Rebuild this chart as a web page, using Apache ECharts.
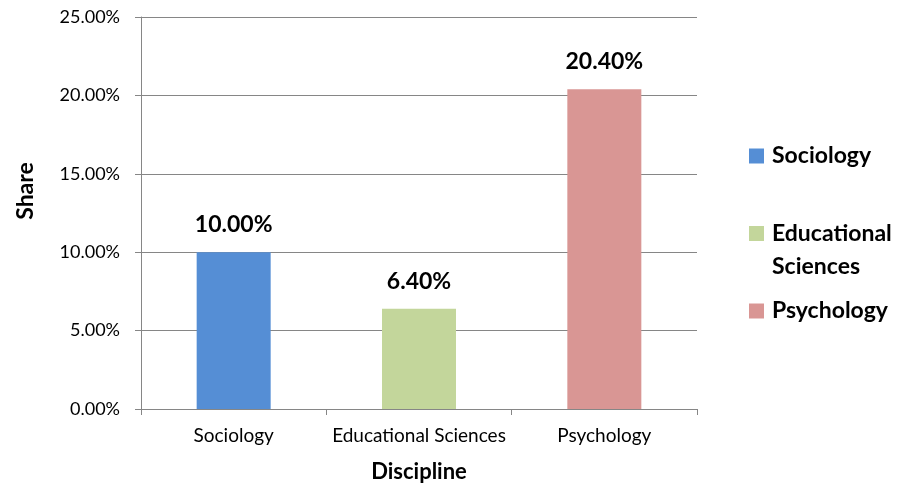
<!DOCTYPE html>
<html>
<head>
<meta charset="utf-8">
<script src="https://cdn.jsdelivr.net/npm/echarts@6/dist/echarts.min.js"></script>
<style>
  html, body { margin: 0; padding: 0; background: #ffffff; }
  #chart { width: 915px; height: 488px; }
</style>
</head>
<body>
<div id="chart"></div>
<script>
// Share of each discipline (percent)
const categories = ['Sociology', 'Educational Sciences', 'Psychology'];
const shares = [10.0, 6.4, 20.4];
const seriesNames = ['Sociology', 'Educational Sciences', 'Psychology'];
const yTicks = [0, 5, 10, 15, 20, 25];

const colors = ['#558ED5', '#C3D69B', '#D99694'];
const FONT = 'Lato, "Liberation Sans", sans-serif';

const chart = echarts.init(document.getElementById('chart'), null, { renderer: 'canvas' });

// One series per discipline; each only has a value in its own category,
// and bars overlap (barGap -100%) so every bar sits centred in its slot.
const series = seriesNames.map((name, i) => ({
  name: name,
  type: 'bar',
  barWidth: 74,
  barGap: '-100%',
  data: categories.map((c, j) => (j === i ? shares[j] : '-')),
  itemStyle: { color: colors[i] },
  label: {
    show: true,
    position: 'top',
    distance: 16,
    formatter: p => p.value.toFixed(2) + '%',
    fontFamily: FONT,
    fontWeight: 'bold',
    fontSize: 23,
    color: '#000'
  }
}));

// Square swatch with a little extra room on its right before the text
const SWATCH = 'path://M0,0h15v15h-15zM18,0L18,0';

const legendBase = {
  orient: 'vertical',
  left: 744,
  itemWidth: 18,
  itemHeight: 15,
  itemGap: 0,
  icon: SWATCH,
  textStyle: { fontFamily: FONT, fontWeight: 'bold', fontSize: 23, lineHeight: 30, color: '#000' }
};

chart.setOption({
  animation: false,
  backgroundColor: '#ffffff',
  grid: { left: 141, right: 218, top: 17, bottom: 77, containLabel: false },
  legend: [
    Object.assign({}, legendBase, { top: 136, data: [seriesNames[0]] }),
    Object.assign({}, legendBase, {
      top: 179,
      data: [seriesNames[1]],
      // wrapped over two lines, swatch beside the first line
      formatter: n => '\n' + n.replace(' ', '\n'),
      textStyle: Object.assign({}, legendBase.textStyle, { lineHeight: 33 })
    }),
    Object.assign({}, legendBase, { top: 291, data: [seriesNames[2]] })
  ],
  xAxis: {
    type: 'category',
    data: categories,
    name: 'Discipline',
    nameLocation: 'middle',
    nameGap: 52,
    nameTextStyle: { fontFamily: FONT, fontWeight: 'bold', fontSize: 22, color: '#000' },
    axisLine: { lineStyle: { color: '#868686', width: 1 } },
    axisTick: { show: true, length: 6, alignWithLabel: false, lineStyle: { color: '#868686' } },
    axisLabel: { interval: 0, hideOverlap: false, margin: 17, fontFamily: FONT, fontSize: 19, color: '#000' }
  },
  yAxis: {
    type: 'value',
    min: yTicks[0],
    max: yTicks[yTicks.length - 1],
    interval: yTicks[1] - yTicks[0],
    name: 'Share',
    nameLocation: 'middle',
    nameGap: 104,
    nameTextStyle: { fontFamily: FONT, fontWeight: 'bold', fontSize: 23, color: '#000', padding: [0, 0, 0, 44] },
    axisLine: { show: true, lineStyle: { color: '#868686', width: 1 } },
    axisTick: { show: true, length: 6, lineStyle: { color: '#868686' } },
    splitLine: { show: true, lineStyle: { color: '#868686', width: 1 } },
    axisLabel: {
      margin: 21,
      fontFamily: FONT,
      fontSize: 18,
      color: '#000',
      formatter: v => v.toFixed(2) + '%'
    }
  },
  series: series
});
</script>
</body>
</html>
